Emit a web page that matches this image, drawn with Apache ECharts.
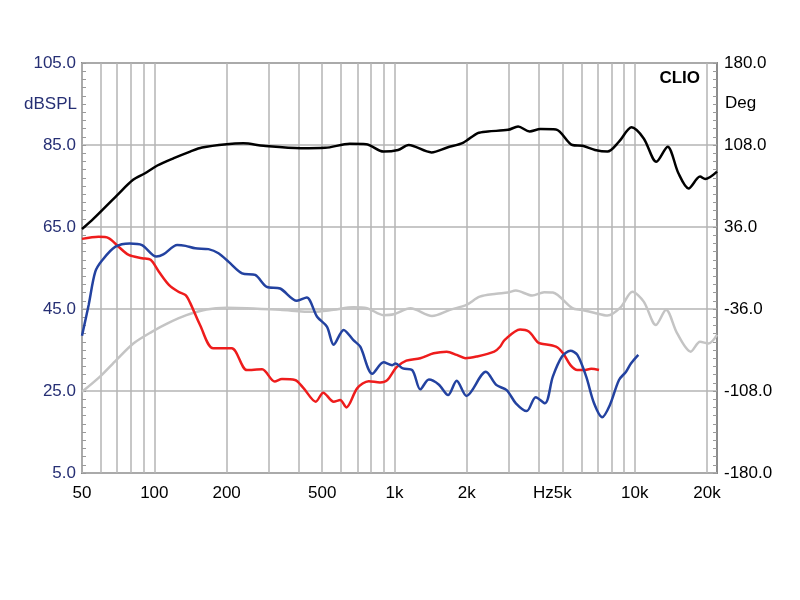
<!DOCTYPE html>
<html>
<head>
<meta charset="utf-8">
<title>CLIO response</title>
<script src="https://cdn.jsdelivr.net/npm/echarts@6.0.0/dist/echarts.min.js"></script>
<style>
  html, body { margin: 0; padding: 0; background: #fff; }
  #chart { width: 800px; height: 600px; }
</style>
</head>
<body>
<div id="chart"></div>
<script>
  // frequency axis: labels and grid lines
  const freqLabels = [50, 100, 200, 500, 1000, 2000, 5000, 10000, 20000];
  const freqGrid = [50, 60, 70, 80, 90, 100, 200, 300, 400, 500, 600, 700, 800, 900,
    1000, 2000, 3000, 4000, 5000, 6000, 7000, 8000, 9000, 10000, 20000];

  // black curve (dBSPL)
  const blackF = [50, 56, 69.6, 81.6, 91.5, 103, 120.6, 141, 158, 200, 235, 285, 407, 514, 651, 762,
    900, 1035, 1146, 1425, 1658, 1936, 2220, 2446, 2970, 3270, 3650, 4050, 4700, 5500, 6060, 6830,
    7700, 8600, 9700, 10900, 12300, 13700, 15200, 16750, 18700, 19650, 22000];
  const blackV = [64.5, 67.1, 72.6, 76.5, 78.1, 80.0, 81.8, 83.4, 84.4, 85.2, 85.4, 84.8, 84.2, 84.3, 85.3, 85.2,
    83.4, 83.8, 85.0, 83.2, 84.4, 85.6, 87.9, 88.3, 88.7, 89.5, 88.3, 88.9, 88.8, 85.0, 84.8, 83.8,
    83.4, 85.8, 89.3, 86.6, 80.9, 84.6, 78.1, 74.4, 77.3, 76.7, 78.5];

  // grey curve
  const grayF = [50, 59.4, 69.6, 81.8, 98, 113.5, 136, 165, 200, 243, 334, 459, 558, 674, 768, 900,
    991, 1165, 1432, 1700, 1993, 2263, 2650, 2960, 3200, 3740, 4200, 4560, 5500, 5990, 6770, 7700,
    8730, 9780, 10900, 12250, 13500, 15000, 17100, 18700, 20300, 22000];
  const grayV = [24.8, 28.5, 32.6, 36.6, 39.5, 41.5, 43.5, 44.9, 45.3, 45.2, 44.8, 44.3, 44.8, 45.4, 45.2, 43.5,
    43.7, 45.2, 43.3, 44.8, 46.0, 48.0, 48.7, 49.0, 49.5, 48.3, 49.1, 49.0, 45.2, 44.8, 44.1, 43.4,
    45.4, 49.2, 46.8, 41.1, 44.8, 39.1, 34.6, 37.0, 36.6, 38.7];

  // red curve
  const redF = [50, 58.6, 64.5, 71, 78.2, 88.9, 96.5, 104.5, 115, 126, 135, 141, 155, 176, 210, 243,
    281, 317, 340, 385, 418, 470, 505, 558, 594, 630, 700, 781, 870, 930, 1020, 1120, 1280, 1455,
    1650, 1815, 1970, 2195, 2600, 2750, 2870, 3330, 3620, 3930, 4050, 4700, 5030, 5400, 5770, 6150,
    6590, 7100];
  const redV = [62.1, 62.6, 62.3, 60.2, 58.2, 57.4, 57.0, 54.1, 50.9, 49.2, 48.4, 46.5, 41.1, 35.4, 35.4, 30.1,
    30.3, 27.3, 27.9, 27.7, 25.7, 22.4, 24.6, 22.4, 22.8, 21.0, 25.7, 27.4, 27.1, 27.6, 30.8, 32.4, 33.0, 34.2,
    34.6, 33.8, 33.0, 33.4, 34.6, 35.8, 37.4, 40.0, 39.5, 37.0, 36.6, 35.8, 34.2, 31.3, 30.1, 30.1,
    30.4, 30.1];

  // blue curve
  const blueF = [50, 53.3, 56.8, 60.9, 68.9, 79, 88.9, 101.9, 109, 124.6, 135, 148, 168, 185, 204, 232,
    263, 294, 334, 392, 431, 476, 523, 558, 614, 674, 720, 808, 900, 978, 1010, 1084, 1185, 1280,
    1390, 1527, 1670, 1815, 1993, 2400, 2650, 2930, 3200, 3550, 3870, 4230, 4560, 4980, 5400, 5770,
    6280, 6770, 7320, 7880, 8600, 9200, 9640, 10350];
  const blueV = [38.5, 46.0, 54.1, 57.0, 60.2, 61.0, 60.6, 57.8, 58.3, 60.6, 60.4, 59.8, 59.6, 58.6, 56.5, 53.7,
    53.3, 50.4, 50.0, 47.0, 47.8, 43.1, 40.7, 36.3, 39.9, 37.4, 35.8, 29.2, 32.0, 31.3, 31.7, 30.5, 30.1, 25.4,
    27.8, 26.6, 24.0, 27.5, 23.8, 29.7, 26.5, 25.2, 22.0, 20.1, 23.5, 22.0, 28.5, 33.4, 34.8, 33.8,
    28.5, 22.0, 18.6, 21.6, 27.7, 29.7, 31.7, 33.8];

  const pairs = (fs, vs) => fs.map((f, i) => [f, vs[i]]);

  const FONT = 'Liberation Sans';
  const gridColor = '#b4b4b4';

  function curve(name, fs, vs, color) {
    return {
      name: name,
      type: 'line',
      data: pairs(fs, vs),
      showSymbol: false,
      smooth: 0.3,
      lineStyle: { color: color, width: 2.5 },
      z: 3
    };
  }

  const chart = echarts.init(document.getElementById('chart'));
  chart.setOption({
    animation: false,
    grid: {
      left: 82, right: 83, top: 63, bottom: 127,
      show: true,
      borderColor: '#8c8c8c',
      borderWidth: 2
    },
    xAxis: {
      type: 'log',
      logBase: 10,
      min: 50,
      max: 22000,
      axisLine: { show: false },
      axisTick: { show: false, customValues: freqGrid },
      splitLine: { show: true, lineStyle: { color: gridColor, width: 1.5 } },
      axisLabel: {
        customValues: freqLabels,
        margin: 12,
        color: '#000',
        fontFamily: FONT,
        fontSize: 17,
        formatter: function (v) {
          if (v === 5000) return '{hz|Hz}5k{pad|}';
          return v >= 1000 ? (v / 1000) + 'k' : String(v);
        },
        rich: {
          hz: { fontFamily: FONT, fontSize: 17, color: '#000' },
          pad: { width: 20 }
        }
      }
    },
    yAxis: [
      {
        type: 'value',
        min: 5, max: 105, interval: 20,
        axisLine: { show: false },
        axisTick: { show: true, inside: true, length: 4, lineStyle: { color: '#9a9a9a' } },
        minorTick: { show: true, splitNumber: 10, length: 4, lineStyle: { color: '#9a9a9a' } },
        splitLine: { show: true, lineStyle: { color: gridColor, width: 1.5 } },
        axisLabel: {
          margin: 6,
          color: '#262f74',
          fontFamily: FONT,
          fontSize: 17,
          formatter: v => v.toFixed(1)
        }
      },
      {
        type: 'value',
        min: -180, max: 180, interval: 72,
        position: 'right',
        axisLine: { show: false },
        axisTick: { show: true, inside: true, length: 4, lineStyle: { color: '#9a9a9a' } },
        minorTick: { show: true, splitNumber: 10, length: 4, lineStyle: { color: '#9a9a9a' } },
        splitLine: { show: false },
        axisLabel: {
          margin: 7,
          color: '#000',
          fontFamily: FONT,
          fontSize: 17,
          formatter: v => v.toFixed(1)
        }
      }
    ],
    graphic: [
      { type: 'text', x: 77, y: 104, style: { text: 'dBSPL', fill: '#262f74', font: '17px "Liberation Sans"', textAlign: 'right', textVerticalAlign: 'middle' } },
      { type: 'text', x: 725, y: 103, style: { text: 'Deg', fill: '#000', font: '17px "Liberation Sans"', textAlign: 'left', textVerticalAlign: 'middle' } },
      { type: 'text', x: 700, y: 78, style: { text: 'CLIO', fill: '#000', font: 'bold 17px "Liberation Sans"', textAlign: 'right', textVerticalAlign: 'middle' } }
    ],
    series: [
      curve('gray', grayF, grayV, '#c4c4c4'),
      curve('red', redF, redV, '#ee1c1c'),
      curve('blue', blueF, blueV, '#2342a0'),
      curve('black', blackF, blackV, '#000000')
    ]
  });
</script>
</body>
</html>
